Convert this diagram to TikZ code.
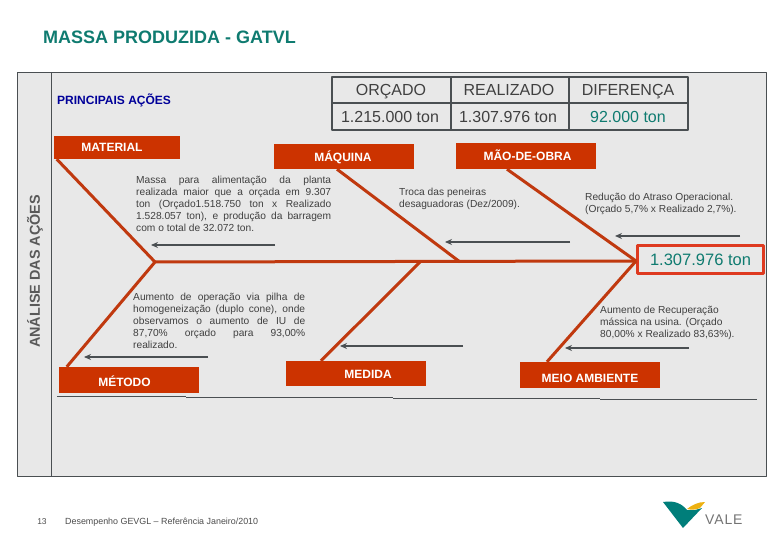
\documentclass[tikz,border=0pt]{standalone}
\usepackage{fontspec}
\setmainfont{Liberation Sans}
\usepackage{xcolor}
\usetikzlibrary{arrows.meta}
\definecolor{panelgray}{HTML}{E8E8E8}
\definecolor{edgegray}{HTML}{4A4F52}
\definecolor{bonered}{HTML}{C0390F}
\definecolor{boxred}{HTML}{CC3300}
\definecolor{framered}{HTML}{DE3A20}
\definecolor{valeteal}{HTML}{007E7A}
\definecolor{valegold}{HTML}{EDB111}
\definecolor{tinttext}{HTML}{0F7B70}
\tikzset{
  every picture/.style={line join=round, >=Stealth},
  redbox/.style={fill=boxred, minimum height=25pt, inner sep=0pt},
  boxlabel/.style={font=\fontsize{12}{14}\selectfont\bfseries, text=white, inner sep=0pt},
  bone/.style={bonered, line width=3pt},
  note/.style={font=\fontsize{10.2}{12}\selectfont, text=black!75, inner sep=0pt, anchor=north west, align=left},
  pointer/.style={-{Stealth[length=7pt,width=6pt]}, edgegray, line width=1.5pt},
  cellrule/.style={edgegray, line width=1.6pt},
  celltext/.style={font=\fontsize{16}{18}\selectfont, text=black!75, inner sep=0pt, anchor=base},
}
\newcommand{\stretched}[2]{\makebox[#1pt][s]{#2}}
\begin{document}
\begin{tikzpicture}[x=1pt,y=-1pt]
\useasboundingbox (0,0) rectangle (780,540);
% panel
\draw[edgegray,fill=panelgray,line width=0.8pt] (17.5,72.5) rectangle (766,476);
\draw[edgegray,line width=0.8pt] (51,72.5)--(51,476);
\foreach \xa/\xb/\ylev in {57/186/396,186/393/397,393/600/398,600/757/399}{\draw[edgegray,line width=0.8pt] (\xa,\ylev)--(\xb,\ylev);}
\node[font=\fontsize{18}{20}\selectfont\bfseries,text=tinttext,anchor=west,inner sep=0pt] (title) at (43,37){MASSA PRODUZIDA - GATVL};
\node[font=\fontsize{12}{14}\selectfont\bfseries,text=blue!60!black,anchor=west,inner sep=0pt] (actions) at (57,100.5){PRINCIPAIS AÇÕES};
\node[rotate=90,font=\fontsize{14.4}{16}\selectfont\bfseries,text=black!65,inner sep=0pt] (sidetitle) at (35,271.5){ANÁLISE DAS AÇÕES};
% table
\draw[cellrule] (332,77) rectangle (688,130);
\draw[cellrule] (332,103)--(688,103);
\foreach \xcol in {451,569}{\draw[cellrule] (\xcol,77)--(\xcol,130);}
\node[celltext] (orcado) at (391,96){ORÇADO};
\node[celltext] (realizado) at (509,96){REALIZADO};
\node[celltext] (diferenca) at (628,96){DIFERENÇA};
\node[celltext] (orcton) at (390,123){1.215.000 ton};
\node[celltext] (realton) at (508,123){1.307.976 ton};
\node[celltext,text=tinttext] (difton) at (628,123){92.000 ton};
% boxes
\node[redbox,minimum width=126pt,minimum height=23pt] (material) at (117,147.5){};
\node[redbox,minimum width=140pt] (maquina) at (344,156.5){};
\node[redbox,minimum width=140pt,minimum height=26pt] (maodeobra) at (526,156){};
\node[redbox,minimum width=140pt,minimum height=26pt] (metodo) at (129,380){};
\node[redbox,minimum width=140pt] (medida) at (356,373.5){};
\node[redbox,minimum width=140pt,minimum height=26pt] (meioamb) at (590,375){};
\node[boxlabel] (lblmaterial) at (112,147){MATERIAL};
\node[boxlabel] (lblmaquina) at (343,157){MÁQUINA};
\node[boxlabel] (lblmao) at (527.5,155.5){MÃO-DE-OBRA};
\node[boxlabel] (lblmetodo) at (124.5,381.5){MÉTODO};
\node[boxlabel] (lblmedida) at (368,374.5){MEDIDA};
\node[boxlabel] (lblmeio) at (590,378.5){MEIO AMBIENTE};
% result
\node[draw=framered,line width=3pt,fill=panelgray,minimum width=126pt,minimum height=28pt,inner sep=0pt,
  font=\fontsize{16.5}{18}\selectfont,text=tinttext] (result) at (700.5,259.5){1.307.976 ton};
% bones
\coordinate (jointa) at (155,262);
\coordinate (jointb) at (460,262);
\coordinate (jointc) at (420,262);
\coordinate (jointd) at (636,261);
\draw[bone] (jointa)--(jointd);
\draw[bone] ([xshift=3]material.south west)--(jointa);
\draw[bone] ([xshift=8]metodo.north west)--(jointa);
\draw[bone] ([xshift=-7]maquina.south)--(jointb);
\draw[bone] ([xshift=-35]medida.north)--(jointc);
\draw[bone] ([xshift=-19]maodeobra.south)--(jointd);
\draw[bone] ([xshift=-43]meioamb.north)--(jointd);
% notes
\node[note] (notea) at (136,176){\stretched{195}{Massa para alimentação da planta}\\\stretched{195}{realizada maior que a orçada em 9.307}\\\stretched{195}{ton (Orçado1.518.750 ton x Realizado}\\\stretched{195}{1.528.057 ton), e produção da barragem}\\com o total de 32.072 ton.};
\node[note] (noteb) at (399,188){Troca das peneiras\\desaguadoras (Dez/2009).};
\node[note] (notec) at (585,193){Redução do Atraso Operacional.\\(Orçado 5,7\% x Realizado 2,7\%).};
\node[note] (noted) at (133,293){\stretched{172}{Aumento de operação via pilha de}\\\stretched{172}{homogeneização (duplo cone), onde}\\\stretched{172}{observamos o aumento de IU de}\\\stretched{172}{87,70\% orçado para 93,00\%}\\realizado.};
\node[note] (notee) at (600,306){Aumento de Recuperação\\mássica na usina. (Orçado\\80,00\% x Realizado 83,63\%).};
% pointers
\coordinate (pa) at (275,245); \coordinate (pb) at (151,245);
\coordinate (pc) at (570,242); \coordinate (pd) at (445,242);
\coordinate (pe) at (740,236); \coordinate (pf) at (615,236);
\coordinate (pg) at (208,357); \coordinate (ph) at (84,357);
\coordinate (pi) at (463,346); \coordinate (pj) at (340,346);
\coordinate (pk) at (689,348); \coordinate (pl) at (565,348);
\foreach \pfrom/\pto in {pa/pb,pc/pd,pe/pf,pg/ph,pi/pj,pk/pl}{\draw[pointer] (\pfrom)--(\pto);}
% footer
\node[font=\fontsize{8.5}{10}\selectfont,text=black!70,inner sep=0pt] (pagenum) at (42,522){13};
\node[font=\fontsize{8.9}{10}\selectfont,text=black!70,anchor=west,inner sep=0pt] (footer) at (65,522){Desempenho GEVGL – Referência Janeiro/2010};
% logo
\fill[valeteal] (663,502)..controls (675,500) and (682,504) .. (687,510)--(695,510)--(702,508)--(683,528)--cycle;
\fill[valegold] (687,509)..controls (692,505) and (698,502) .. (705,502)--(700,508)..controls (696,510) and (691,510) .. (687,509)--cycle;
\node[font=\fontsize{14}{16}\selectfont\addfontfeature{LetterSpace=6},text=black!55,anchor=west,inner sep=0pt] (valeword) at (705,520){VALE};
\end{tikzpicture}
\end{document}
